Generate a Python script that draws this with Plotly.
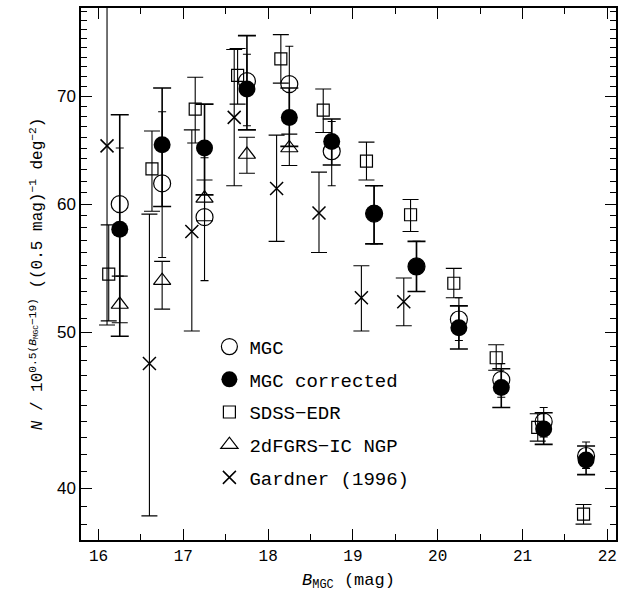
import plotly.graph_objects as go

# ---- data ----
mgc_x = [16.25, 16.75, 17.25, 17.75, 18.25, 18.75, 19.25, 19.75, 20.25, 20.75, 21.25, 21.75]
mgc_y = [60.0, 61.8, 58.9, 71.5, 71.2, 64.7, 59.2, 54.9, 50.9, 46.7, 44.0, 41.9]
mgc_hi = [65.0, 68.45, 64.1, 74.3, 75.15, 67.5, 61.6, 56.9, 52.5, 47.8, 44.9, 42.74]
mgc_lo = [54.15, 55.6, 53.8, 67.1, 67.4, 61.6, 56.7, 52.97, 49.4, 45.56, 43.05, 41.16]

mgcc_y = [57.9, 65.3, 65.0, 70.7, 67.9, 65.6, 59.2, 54.9, 50.3, 46.2, 43.55, 41.66]
mgcc_hi = [68.15, 70.8, 69.2, 76.3, 70.8, 67.75, 61.6, 56.9, 51.9, 47.45, 44.56, 42.5]
mgcc_lo = [49.7, 59.8, 60.8, 66.7, 65.15, 63.45, 56.7, 52.97, 48.8, 44.9, 42.6, 40.8]

sdss_x = [16.12, 16.63, 17.14, 17.64, 18.15, 18.65, 19.16, 19.68, 20.19, 20.69, 21.18, 21.72]
sdss_y = [54.3, 63.1, 68.7, 72.1, 73.8, 68.6, 63.8, 59.1, 53.6, 48.2, 43.65, 38.57]
sdss_hi = [58.25, 66.6, 71.9, 74.9, 76.4, 70.7, 65.55, 60.4, 54.75, 49.1, 44.5, 39.1]
sdss_lo = [50.8, 59.4, 65.46, 69.2, 71.3, 66.45, 62.1, 57.7, 52.5, 47.35, 42.8, 38.02]

tdf_x = [16.25, 16.75, 17.25, 17.75, 18.25]
tdf_y = [52.0, 53.8, 60.5, 64.4, 65.0]
tdf_hi = [54.15, 55.3, 62.1, 66.0, 66.3]
tdf_lo = [50.67, 51.66, 58.6, 62.7, 63.4]

gard_x = [16.1, 16.6, 17.1, 17.6, 18.1, 18.6, 19.1, 19.6]
gard_y = [65.2, 47.8, 57.7, 67.9, 61.35, 59.25, 52.5, 52.2]
gard_hi = [84.2, 59.15, 66.7, 74.8, 66.2, 62.8, 54.95, 54.0]
gard_lo = [50.5, 38.47, 50.07, 61.6, 56.9, 56.0, 50.07, 50.45]

x_ticks = [16, 17, 18, 19, 20, 21, 22]
x_minor = [16.5, 17.5, 18.5, 19.5, 20.5, 21.5]
y_ticks = [40, 50, 60, 70]
y_minor = list(range(37, 80))


def err(y, hi, lo, width, thick):
    return dict(type="data", symmetric=False,
                array=[h - v for v, h in zip(y, hi)],
                arrayminus=[v - l for v, l in zip(y, lo)],
                color="black", thickness=thick, width=width)


MONO = "Liberation Mono"
fig = go.Figure()

fig.add_trace(go.Scatter(
    x=gard_x, y=gard_y, mode="markers", name="Gardner (1996)",
    marker=dict(symbol="x-thin", size=13, color="black", line=dict(width=1.5, color="black")),
    error_y=err(gard_y, gard_hi, gard_lo, 8, 1.1), legendrank=5, legendgroup="g5"))
fig.add_trace(go.Scatter(
    x=tdf_x, y=tdf_y, mode="markers", name="2dFGRS\u2212IC NGP",
    marker=dict(symbol="triangle-up-open", size=15, color="black", line=dict(width=1.2)),
    error_y=err(tdf_y, tdf_hi, tdf_lo, 8, 1.1), legendrank=4, legendgroup="g4"))
fig.add_trace(go.Scatter(
    x=sdss_x, y=sdss_y, mode="markers", name="SDSS\u2212EDR",
    marker=dict(symbol="square-open", size=12, color="black", line=dict(width=1.2)),
    error_y=err(sdss_y, sdss_hi, sdss_lo, 8, 1.1), legendrank=3, legendgroup="g3"))
fig.add_trace(go.Scatter(
    x=mgc_x, y=mgc_y, mode="markers", name="MGC",
    marker=dict(symbol="circle-open", size=17, color="black", line=dict(width=1.2)),
    error_y=err(mgc_y, mgc_hi, mgc_lo, 4, 1.1), legendrank=1, legendgroup="g1"))
fig.add_trace(go.Scatter(
    x=mgc_x, y=mgcc_y, mode="markers", name="MGC corrected",
    marker=dict(symbol="circle", size=17, color="black"),
    error_y=err(mgcc_y, mgcc_hi, mgcc_lo, 9, 1.6), legendrank=2, legendgroup="g2"))

fig.update_layout(
    width=631, height=595,
    margin=dict(l=81, r=15, t=6, b=55),
    paper_bgcolor="white", plot_bgcolor="white",
    font=dict(family=MONO, size=16, color="black"),
    showlegend=True,
    legend=dict(x=0.24, y=0.399, xanchor="left", yanchor="top",
                bgcolor="rgba(0,0,0,0)", font=dict(family=MONO, size=19),
                tracegroupgap=5, itemwidth=30, traceorder="grouped"),
)

fig.update_xaxes(
    range=[15.793, 22.103], tickvals=x_ticks, ticktext=[str(t) for t in x_ticks],
    ticks="inside", ticklen=11, tickwidth=1.2, tickcolor="black",
    showline=True, linecolor="black", linewidth=1.5, mirror="allticks",
    showgrid=False, zeroline=False,
    tickfont=dict(family=MONO, size=16),
    minor=dict(tickvals=x_minor, ticks="inside",
               ticklen=6, tickwidth=1.2, tickcolor="black", showgrid=False),
    title=dict(text="<i>B</i><sub>MGC</sub> (mag)", font=dict(family=MONO, size=17), standoff=8),
)
fig.update_yaxes(
    type="log", range=[1.5702, 1.8996], tickvals=y_ticks, ticktext=[str(t) for t in y_ticks],
    ticks="inside", ticklen=11, tickwidth=1.2, tickcolor="black",
    showline=True, linecolor="black", linewidth=1.5, mirror="allticks",
    showgrid=False, zeroline=False,
    tickfont=dict(family="Liberation Sans", size=17),
    minor=dict(tickvals=y_minor, ticks="inside", ticklen=6, tickwidth=1.2,
               tickcolor="black", showgrid=False),
    title=dict(text="<i>N</i> / 10<sup>0.5(<i>B</i><sub>MGC</sub>\u221219)</sup> "
                    "((0.5 mag)<sup>\u22121</sup> deg<sup>\u22122</sup>)",
               font=dict(family=MONO, size=16), standoff=10),
)

fig.write_html("out.html")
